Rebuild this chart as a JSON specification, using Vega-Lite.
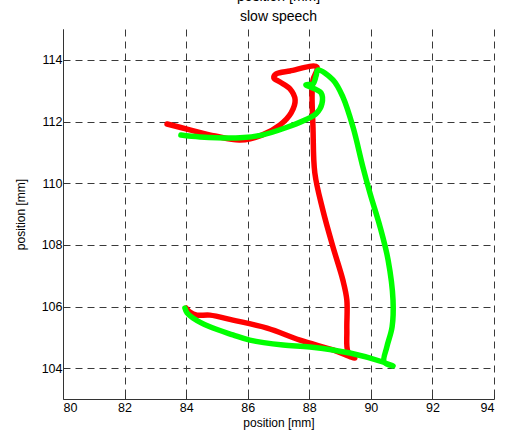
{
  "$schema": "https://vega.github.io/schema/vega-lite/v6.json",
  "autosize": {"type": "none"},
  "padding": {"left": 63, "top": 29, "right": 11, "bottom": 42},
  "width": 431,
  "height": 370,
  "background": "white",
  "title": {
    "text": ["position [mm]", "slow speech"],
    "fontSize": 14,
    "fontWeight": "normal",
    "font": "Liberation Sans",
    "color": "#000000",
    "lineHeight": 20,
    "baseline": "bottom",
    "anchor": "middle",
    "offset": -9
  },
  "config": {
    "view": {"stroke": null},
    "axis": {
      "labelFont": "Liberation Sans",
      "titleFont": "Liberation Sans",
      "labelFontSize": 12.5,
      "titleFontSize": 12,
      "titleFontWeight": "normal",
      "labelColor": "#000000",
      "titleColor": "#000000",
      "domainColor": "#333333",
      "domainWidth": 1,
      "tickColor": "#333333",
      "tickSize": -4,
      "grid": true,
      "gridColor": "#3a3a3a",
      "gridDash": [7, 5],
      "gridWidth": 1,
      "gridOpacity": 1
    }
  },
  "data": {
    "values": [
      {"series": "red", "i": 1, "x": 83.38, "y": 111.92},
      {"series": "red", "i": 2, "x": 84.12, "y": 111.73},
      {"series": "red", "i": 3, "x": 84.94, "y": 111.53},
      {"series": "red", "i": 4, "x": 85.75, "y": 111.40},
      {"series": "red", "i": 5, "x": 86.46, "y": 111.56},
      {"series": "red", "i": 6, "x": 87.05, "y": 111.89},
      {"series": "red", "i": 7, "x": 87.41, "y": 112.28},
      {"series": "red", "i": 8, "x": 87.54, "y": 112.70},
      {"series": "red", "i": 9, "x": 87.37, "y": 113.06},
      {"series": "red", "i": 10, "x": 87.05, "y": 113.28},
      {"series": "red", "i": 11, "x": 86.85, "y": 113.41},
      {"series": "red", "i": 12, "x": 86.92, "y": 113.54},
      {"series": "red", "i": 13, "x": 87.37, "y": 113.64},
      {"series": "red", "i": 14, "x": 88.25, "y": 113.77},
      {"series": "red", "i": 15, "x": 88.12, "y": 113.35},
      {"series": "red", "i": 16, "x": 88.09, "y": 112.86},
      {"series": "red", "i": 17, "x": 88.12, "y": 111.82},
      {"series": "red", "i": 18, "x": 88.18, "y": 110.33},
      {"series": "red", "i": 19, "x": 88.44, "y": 109.13},
      {"series": "red", "i": 20, "x": 88.77, "y": 107.93},
      {"series": "red", "i": 21, "x": 89.09, "y": 106.86},
      {"series": "red", "i": 22, "x": 89.22, "y": 106.21},
      {"series": "red", "i": 23, "x": 89.22, "y": 105.24},
      {"series": "red", "i": 24, "x": 89.26, "y": 104.52},
      {"series": "red", "i": 25, "x": 89.48, "y": 104.33},
      {"series": "red", "i": 26, "x": 88.77, "y": 104.59},
      {"series": "red", "i": 27, "x": 87.70, "y": 104.91},
      {"series": "red", "i": 28, "x": 86.63, "y": 105.30},
      {"series": "red", "i": 29, "x": 85.52, "y": 105.56},
      {"series": "red", "i": 30, "x": 84.77, "y": 105.72},
      {"series": "red", "i": 31, "x": 84.35, "y": 105.72},
      {"series": "red", "i": 32, "x": 84.12, "y": 105.82},
      {"series": "red", "i": 33, "x": 84.00, "y": 105.95},
      {"series": "green", "i": 1, "x": 83.83, "y": 111.56},
      {"series": "green", "i": 2, "x": 84.45, "y": 111.50},
      {"series": "green", "i": 3, "x": 85.75, "y": 111.47},
      {"series": "green", "i": 4, "x": 86.46, "y": 111.56},
      {"series": "green", "i": 5, "x": 87.21, "y": 111.79},
      {"series": "green", "i": 6, "x": 87.86, "y": 112.05},
      {"series": "green", "i": 7, "x": 88.22, "y": 112.25},
      {"series": "green", "i": 8, "x": 88.41, "y": 112.57},
      {"series": "green", "i": 9, "x": 88.38, "y": 112.93},
      {"series": "green", "i": 10, "x": 87.89, "y": 113.19},
      {"series": "green", "i": 11, "x": 88.12, "y": 113.22},
      {"series": "green", "i": 12, "x": 88.22, "y": 113.48},
      {"series": "green", "i": 13, "x": 88.28, "y": 113.67},
      {"series": "green", "i": 14, "x": 88.77, "y": 113.35},
      {"series": "green", "i": 15, "x": 89.09, "y": 112.80},
      {"series": "green", "i": 16, "x": 89.42, "y": 111.82},
      {"series": "green", "i": 17, "x": 89.74, "y": 110.53},
      {"series": "green", "i": 18, "x": 89.97, "y": 109.68},
      {"series": "green", "i": 19, "x": 90.30, "y": 108.58},
      {"series": "green", "i": 20, "x": 90.56, "y": 107.51},
      {"series": "green", "i": 21, "x": 90.72, "y": 106.21},
      {"series": "green", "i": 22, "x": 90.69, "y": 105.34},
      {"series": "green", "i": 23, "x": 90.52, "y": 104.69},
      {"series": "green", "i": 24, "x": 90.43, "y": 104.20},
      {"series": "green", "i": 25, "x": 90.72, "y": 104.07},
      {"series": "green", "i": 26, "x": 90.39, "y": 104.20},
      {"series": "green", "i": 27, "x": 89.32, "y": 104.49},
      {"series": "green", "i": 28, "x": 88.02, "y": 104.69},
      {"series": "green", "i": 29, "x": 87.15, "y": 104.75},
      {"series": "green", "i": 30, "x": 86.07, "y": 104.91},
      {"series": "green", "i": 31, "x": 85.52, "y": 105.08},
      {"series": "green", "i": 32, "x": 84.77, "y": 105.34},
      {"series": "green", "i": 33, "x": 84.22, "y": 105.63},
      {"series": "green", "i": 34, "x": 84.03, "y": 105.79},
      {"series": "green", "i": 35, "x": 83.96, "y": 105.95}
    ]
  },
  "encoding": {
    "x": {
      "field": "x",
      "type": "quantitative",
      "scale": {"domain": [80, 94], "nice": false, "zero": false},
      "axis": {"title": "position [mm]", "values": [80, 82, 84, 86, 88, 90, 92, 94], "labelPadding": 6, "titlePadding": 4}
    },
    "y": {
      "field": "y",
      "type": "quantitative",
      "scale": {"domain": [103, 115], "nice": false, "zero": false},
      "axis": {"title": "position [mm]", "values": [104, 106, 108, 110, 112, 114], "labelPadding": 5, "titlePadding": 14}
    },
    "order": {"field": "i", "type": "quantitative"}
  },
  "layer": [
    {
      "transform": [{"filter": "datum.series === 'red'"}],
      "mark": {"type": "line", "color": "#ff0000", "strokeWidth": 5.5, "strokeCap": "round", "strokeJoin": "round", "interpolate": "catmull-rom"}
    },
    {
      "transform": [{"filter": "datum.series === 'green'"}],
      "mark": {"type": "line", "color": "#00ff00", "strokeWidth": 5.5, "strokeCap": "round", "strokeJoin": "round", "interpolate": "catmull-rom"}
    }
  ]
}
